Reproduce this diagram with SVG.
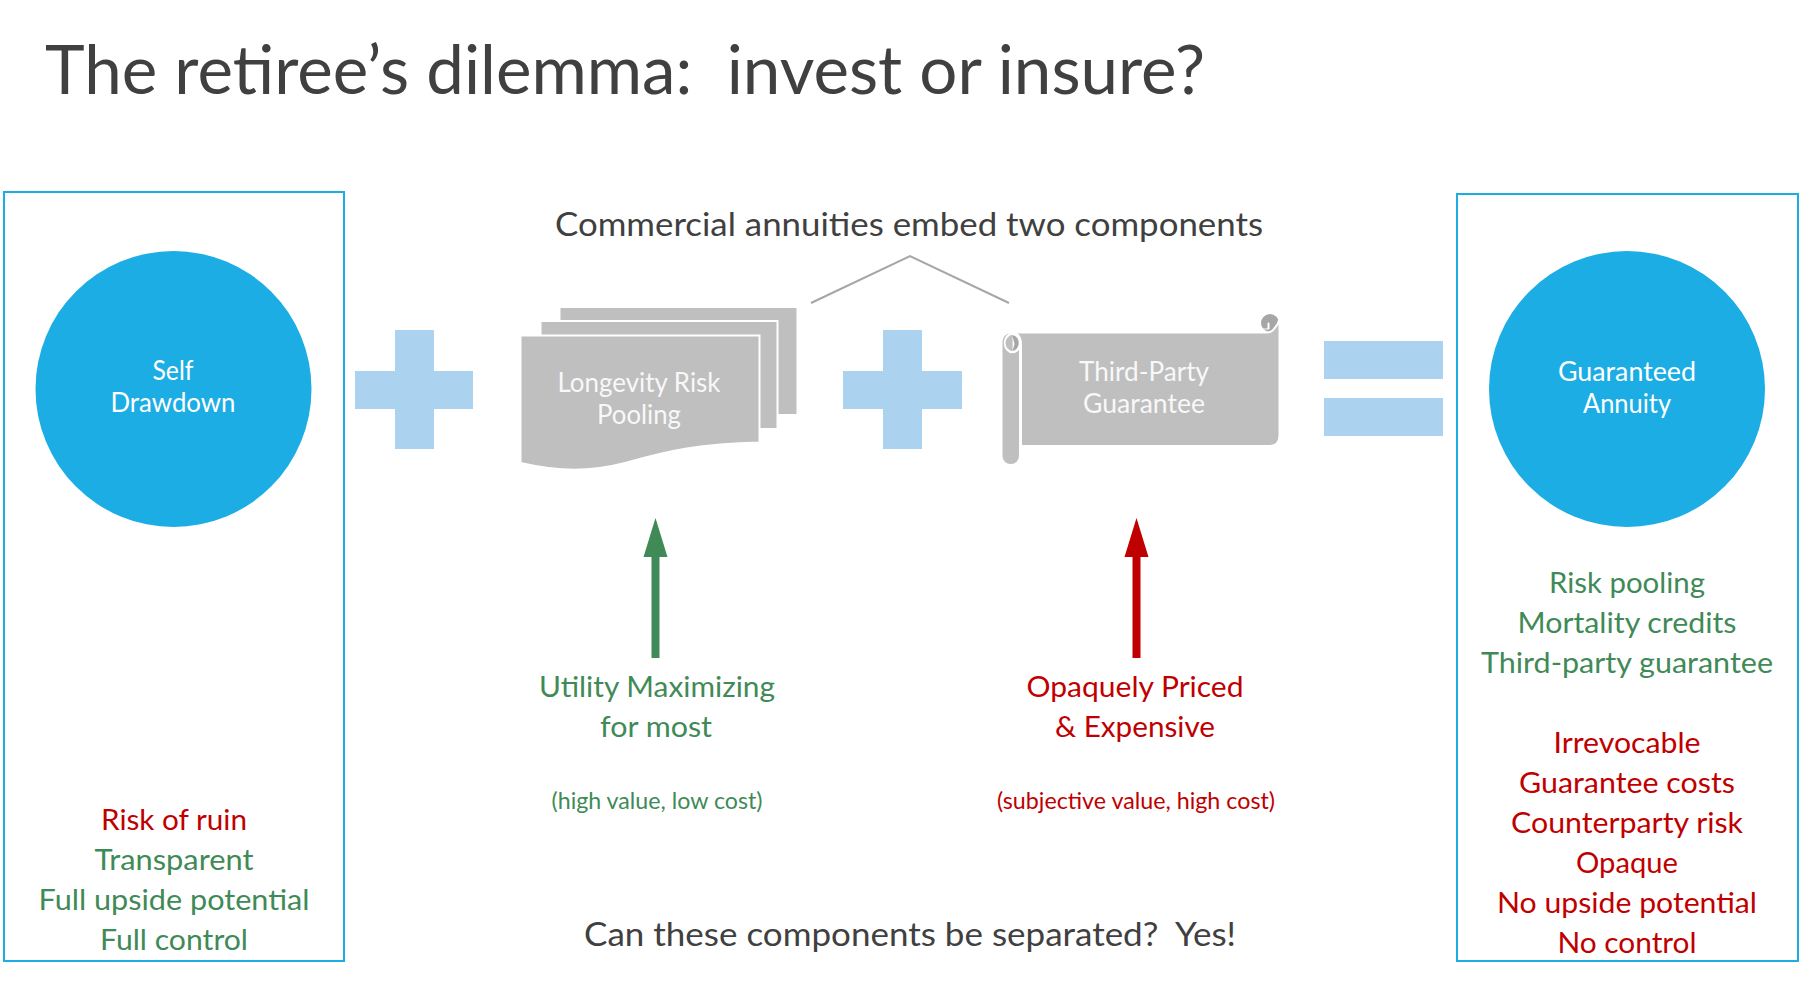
<svg xmlns="http://www.w3.org/2000/svg" width="1799" height="983" viewBox="0 0 1799 983">
<style>
text{font-family:"Lato","Noto Sans",sans-serif;text-anchor:middle;white-space:pre}
.g{fill:#3f8a57;font-size:29px}
.r{fill:#c00000;font-size:29px}
.w{fill:#fff;font-size:26px}
.l{fill:#f8f8f8;font-size:26px}
.d{fill:#404040;font-size:33px}
.s{font-size:23px}
.box{fill:#fff;stroke:#1cade4;stroke-width:2}
.c{fill:#1cade4}
.p{fill:#abd2ef}
.doc{fill:#bfbfbf;stroke:#fff;stroke-width:2}
</style>
<rect width="1799" height="983" fill="#fff"/>
<text x="45" y="94" style="text-anchor:start;font-size:67px;fill:#404040" textLength="1160" lengthAdjust="spacingAndGlyphs">The retiree’s dilemma:  invest or insure?</text>
<g id="self-drawdown">
<rect class="box" x="4" y="192" width="340" height="769"/>
<circle class="c" cx="173.500" cy="389" r="138"/>
<text class="w" x="173" y="380" textLength="41" lengthAdjust="spacingAndGlyphs">Self</text>
<text class="w" x="173" y="412" textLength="125" lengthAdjust="spacingAndGlyphs">Drawdown</text>
<text class="r" x="174" y="830" textLength="146" lengthAdjust="spacingAndGlyphs">Risk of ruin</text>
<text class="g" x="174" y="870" textLength="159" lengthAdjust="spacingAndGlyphs">Transparent</text>
<text class="g" x="174" y="910" textLength="271" lengthAdjust="spacingAndGlyphs">Full upside potential</text>
<text class="g" x="174" y="950" textLength="148" lengthAdjust="spacingAndGlyphs">Full control</text>
</g>
<g id="guaranteed-annuity">
<rect class="box" x="1457" y="194" width="341" height="767"/>
<circle class="c" cx="1627" cy="389" r="138"/>
<text class="w" x="1627" y="381" textLength="138" lengthAdjust="spacingAndGlyphs">Guaranteed</text>
<text class="w" x="1627" y="413" textLength="88" lengthAdjust="spacingAndGlyphs">Annuity</text>
<text class="g" x="1627" y="593" textLength="156" lengthAdjust="spacingAndGlyphs">Risk pooling</text>
<text class="g" x="1627" y="633" textLength="219" lengthAdjust="spacingAndGlyphs">Mortality credits</text>
<text class="g" x="1627" y="673" textLength="292" lengthAdjust="spacingAndGlyphs">Third-party guarantee</text>
<text class="r" x="1627" y="753" textLength="147" lengthAdjust="spacingAndGlyphs">Irrevocable</text>
<text class="r" x="1627" y="793" textLength="216" lengthAdjust="spacingAndGlyphs">Guarantee costs</text>
<text class="r" x="1627" y="833" textLength="232" lengthAdjust="spacingAndGlyphs">Counterparty risk</text>
<text class="r" x="1627" y="873" textLength="102" lengthAdjust="spacingAndGlyphs">Opaque</text>
<text class="r" x="1627" y="913" textLength="260" lengthAdjust="spacingAndGlyphs">No upside potential</text>
<text class="r" x="1627" y="953" textLength="139" lengthAdjust="spacingAndGlyphs">No control</text>
</g>
<g id="plus-1"><path class="p" d="M395 330h39v41h39v38h-39v40h-39v-40h-40v-38h40z"/></g>
<g id="plus-2"><path class="p" d="M883 330h39v41h40v38h-40v40h-39v-40h-40v-38h40z"/></g>
<g id="equals"><rect class="p" x="1324" y="341" width="119" height="38"/><rect class="p" x="1324" y="398" width="119" height="38"/></g>
<g id="longevity-risk-pooling">
<rect class="doc" x="559.500" y="307" width="238" height="108"/>
<rect class="doc" x="540.500" y="321" width="237" height="108"/>
<path class="doc" d="M520.500 335.500H759.500V442.500C700 444 670 450 625 463C590 472 560 472 520.500 463Z"/>
<text class="l" x="639" y="392" textLength="163" lengthAdjust="spacingAndGlyphs">Longevity Risk</text>
<text class="l" x="639" y="424" textLength="84" lengthAdjust="spacingAndGlyphs">Pooling</text>
</g>
<g id="third-party-guarantee">
<circle cx="1270" cy="323" r="9" fill="#a6a6a6"/>
<path d="M1262 329h7v-6h-1v6" fill="#fff" stroke="#fff"/>
<path class="doc" d="M1012 332.500H1265Q1271 333 1274 329Q1278 325 1279.500 319V436Q1279 446 1269 446H1021V345Q1021 333 1012 333Z"/>
<rect class="doc" x="1001.500" y="332.500" width="18.500" height="132.500" rx="9"/>
<ellipse cx="1012.500" cy="343" rx="7.500" ry="9" fill="#a6a6a6" stroke="#fff" stroke-width="2.500"/>
<path d="M1012.500 335a8 8 0 0 0-7 8a8 8 0 0 0 7 8z" fill="#bfbfbf"/>
<path d="M1012.500 351l2-7-2-8z" fill="#fff"/>
<text class="l" x="1144" y="381" textLength="130" lengthAdjust="spacingAndGlyphs">Third-Party</text>
<text class="l" x="1144" y="413" textLength="122" lengthAdjust="spacingAndGlyphs">Guarantee</text>
</g>
<g id="connectors">
<path d="M811 303L910 256L1009 303" fill="none" stroke="#a6a6a6" stroke-width="2"/>
<path fill="#3f8a57" d="M655.500 518L667.500 557H659.500V658H651.500V557H643.500Z"/>
<path fill="#c00000" d="M1136.500 518L1148.500 557H1140.500V658H1132.500V557H1124.500Z"/>
</g>
<text class="d" x="909" y="236" textLength="708" lengthAdjust="spacingAndGlyphs">Commercial annuities embed two components</text>
<text class="g" x="657" y="697" textLength="236" lengthAdjust="spacingAndGlyphs">Utility Maximizing</text>
<text class="g" x="656" y="737" textLength="112" lengthAdjust="spacingAndGlyphs">for most</text>
<text class="g s" x="657" y="809" textLength="211" lengthAdjust="spacingAndGlyphs">(high value, low cost)</text>
<text class="r" x="1135" y="697" textLength="217" lengthAdjust="spacingAndGlyphs">Opaquely Priced</text>
<text class="r" x="1135" y="737" textLength="160" lengthAdjust="spacingAndGlyphs">&amp; Expensive</text>
<text class="r s" x="1136" y="809" textLength="278" lengthAdjust="spacingAndGlyphs">(subjective value, high cost)</text>
<text class="d" x="910" y="946" textLength="652" lengthAdjust="spacingAndGlyphs">Can these components be separated?  Yes!</text>
</svg>
